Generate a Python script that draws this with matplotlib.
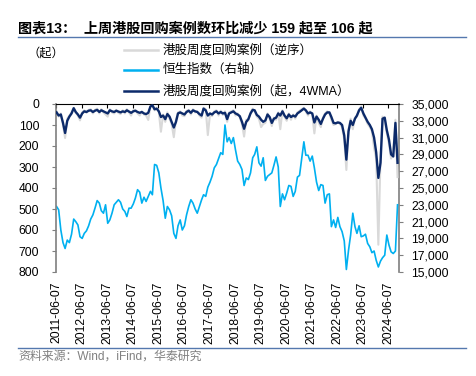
import matplotlib
matplotlib.use("Agg")
import matplotlib.pyplot as plt
from matplotlib.lines import Line2D
import pandas as pd
import numpy as np

# ---------------- data (monthly readings, Jun-2011 .. Oct-2024) ----------------
start_month = "2011-06-01"

hsi = [
    22800, 22400, 20000, 18500, 17800, 18800, 18500,                                 # 2011
    19500, 21300, 21000, 20600, 19200, 19000, 19600, 19900, 20500, 21300, 21800, 22600,  # 2012
    23500, 23200, 22300, 22000, 23000, 20800, 21200, 22000, 23000, 23300, 23600, 23300,  # 2013
    22500, 22200, 21600, 22600, 22600, 23100, 23800, 24800, 24500, 23200, 23900, 23400,  # 2014
    24000, 24600, 24200, 27800, 27700, 26800, 25000, 23500, 21400, 22800, 22400, 21700,  # 2015
    19600, 19000, 20500, 21200, 20000, 20500, 21800, 22800, 23600, 23200, 22500, 22000,  # 2016
    22800, 23600, 24200, 24000, 25100, 25700, 26400, 27400, 27800, 28500, 29200, 29000,  # 2017
    32500, 30500, 31000, 30300, 31000, 29500, 28200, 27800, 27200, 25300, 26200, 26000,  # 2018
    26800, 28600, 29000, 29900, 28000, 27600, 28600, 25900, 26400, 26600, 26800, 27700,  # 2019
    28700, 27500, 22800, 24300, 23600, 24400, 25300, 25200, 24000, 24600, 26300, 26500,  # 2020
    28500, 30500, 28900, 28900, 28200, 28800, 27400, 25700, 24700, 25400, 25300, 23200,  # 2021
    24200, 24300, 20400, 21200, 20300, 21500, 20400, 19800, 18700, 15300, 17600, 19400,  # 2022
    22000, 20400, 19600, 20500, 19200, 19300, 19500, 18400, 18000, 17300, 17500, 16400,  # 2023
    15600, 16300, 16700, 17000, 19400, 18200, 17400, 17200, 17500, 23000,                # 2024
]

buyback_4wma = [
    40, 55, 50, 90, 138, 80, 60,
    45, 20, 38, 50, 65, 45, 35, 38, 32, 30, 38, 32,
    28, 38, 30, 35, 40, 45, 30, 35, 38, 32, 36, 40,
    35, 38, 30, 36, 42, 35, 32, 38, 42, 38, 45, 48,
    42, 12, 6, 25, 22, 35, 62, 55, 72, 48, 60, 85,
    112, 85, 45, 40, 45, 50, 38, 32, 42, 30, 35, 38,
    48, 55, 22, 30, 55, 45, 50, 40, 35, 45, 38, 45,
    42, 72, 45, 40, 35, 45, 50, 58, 85, 118, 85, 72,
    45, 28, 30, 52, 60, 75, 85, 78, 50, 62, 90, 70,
    65, 45, 55, 35, 55, 68, 50, 62, 55, 60, 45, 38,
    30, 22, 30, 45, 40, 45, 88, 60, 75, 95, 70, 50,
    40, 40, 62, 90, 92, 88, 90, 100, 150, 265, 130, 80,
    100, 70, 55, 30, 18, 45, 65, 85, 100, 120, 160, 230,
    352, 280, 70, 65, 125, 170, 240, 250, 90, 280,
]

buyback_weekly = [
    35, 60, 45, 100, 162, 70, 55,
    40, 18, 42, 55, 78, 40, 30, 42, 28, 25, 45, 28,
    22, 45, 25, 40, 50, 60, 25, 40, 45, 28, 42, 48,
    30, 45, 25, 40, 55, 30, 28, 45, 55, 35, 50, 55,
    76, 8, 3, 30, 18, 40, 132, 50, 85, 40, 70, 95,
    158, 75, 40, 35, 55, 58, 33, 28, 50, 25, 40, 35,
    55, 65, 18, 25, 148, 50, 58, 35, 30, 55, 32, 52,
    35, 85, 40, 35, 30, 55, 45, 65, 95, 155, 75, 80,
    40, 22, 35, 60, 70, 110, 95, 90, 45, 70, 105, 65,
    75, 40, 120, 30, 60, 80, 45, 75, 50, 70, 40, 32,
    25, 18, 35, 55, 35, 50, 140, 55, 90, 110, 65, 45,
    35, 45, 75, 100, 95, 85, 95, 110, 170, 314, 120, 70,
    120, 65, 60, 25, 12, 55, 70, 95, 110, 130, 210, 260,
    670, 250, 60, 75, 140, 190, 260, 230, 75, 348,
]

tick_years = list(range(2011, 2025))
tick_labels = [f"{y}-06-07" for y in tick_years]

title_text = "图表13：  上周港股回购案例数环比减少 159 起至 106 起"
legend_labels = ["港股周度回购案例（逆序）", "恒生指数（右轴）", "港股周度回购案例（起，4WMA）"]
unit_text = "（起）"
source_text = "资料来源：Wind，iFind，华泰研究"

# ---------------- plotting ----------------
dates = pd.date_range(start_month, periods=len(hsi), freq="MS") + pd.Timedelta(days=14)

plt.rcParams["font.family"] = ["Liberation Sans", "Noto Sans CJK SC", "DejaVu Sans"]

c_gray = "#D9D9D9"
c_blue = "#00B0F0"
c_navy = "#0C2A6A"
c_axis = "#7F7F7F"
c_rule = "#5478AE"

fig = plt.figure(figsize=(4.77, 3.76), dpi=100)
W, H = 477, 376
ax = fig.add_axes([56 / W, 1 - 272 / H, (399 - 56) / W, (272 - 104) / H])
ax2 = ax.twinx()

ax.plot(dates, buyback_weekly, color=c_gray, lw=1.5, zorder=2)
ax.plot(dates, buyback_4wma, color=c_navy, lw=1.7, zorder=4)
ax2.plot(dates, hsi, color=c_blue, lw=1.2, zorder=3)

ax.set_zorder(ax2.get_zorder() + 1)
ax.patch.set_visible(False)

ax.set_ylim(800, 0)
ax.set_yticks(np.arange(0, 801, 100))
ax2.set_ylim(15000, 35000)
ax2.set_yticks(np.arange(15000, 35001, 2000))
ax2.yaxis.set_major_formatter(matplotlib.ticker.FuncFormatter(lambda v, p: f"{int(v):,}"))

ax.set_xlim(pd.Timestamp("2011-06-07"), pd.Timestamp("2024-11-05"))
ax.set_xticks([pd.Timestamp(f"{y}-06-07") for y in tick_years])
ax.set_xticklabels(tick_labels, rotation=90, fontsize=8.7)

for a in (ax, ax2):
    for s in a.spines.values():
        s.set_visible(False)
ax.spines["top"].set_visible(True)
ax.spines["top"].set_color("black")
ax.spines["top"].set_linewidth(0.8)
ax.spines["left"].set_visible(True)
ax.spines["left"].set_color(c_axis)
ax.spines["left"].set_linewidth(1.2)
ax2.spines["right"].set_visible(True)
ax2.spines["right"].set_color(c_axis)
ax2.spines["right"].set_linewidth(1.2)

ax.tick_params(axis="x", which="both", top=True, bottom=False, labeltop=False,
               labelbottom=True, direction="in", length=3, width=0.8, color="black", pad=7)
ax.tick_params(axis="y", direction="out", length=3, width=0.8, color=c_axis,
               labelsize=8.7, pad=9)
ax2.tick_params(axis="y", direction="out", length=3, width=0.8, color=c_axis,
                labelsize=8.7, pad=6)

# title and rules
fig.text(18 / W, 1 - 28 / H, title_text, fontsize=10.2, fontweight="bold",
         va="center", ha="left", color="black")
fig.add_artist(Line2D([18 / W, 466 / W], [1 - 37 / H, 1 - 37 / H], color=c_rule, lw=1.0))
fig.add_artist(Line2D([18 / W, 466 / W], [1 - 348 / H, 1 - 348 / H], color=c_rule, lw=1.0))
fig.text(18 / W, 1 - 357 / H, source_text, fontsize=8.6, color="#808080",
         va="center", ha="left")

# unit
fig.text(27 / W, 1 - 54 / H, unit_text, fontsize=8.8, va="center", ha="left", color="black")

# legend (manual)
leg_colors = [c_gray, c_blue, c_navy]
leg_y = [50, 70, 91]
for lab, col, yy in zip(legend_labels, leg_colors, leg_y):
    fig.add_artist(Line2D([124 / W, 158 / W], [1 - yy / H, 1 - yy / H], color=col, lw=1.8))
    fig.text(163 / W, 1 - yy / H, lab, fontsize=9, va="center", ha="left", color="black")

fig.savefig("out.png", dpi=100)
